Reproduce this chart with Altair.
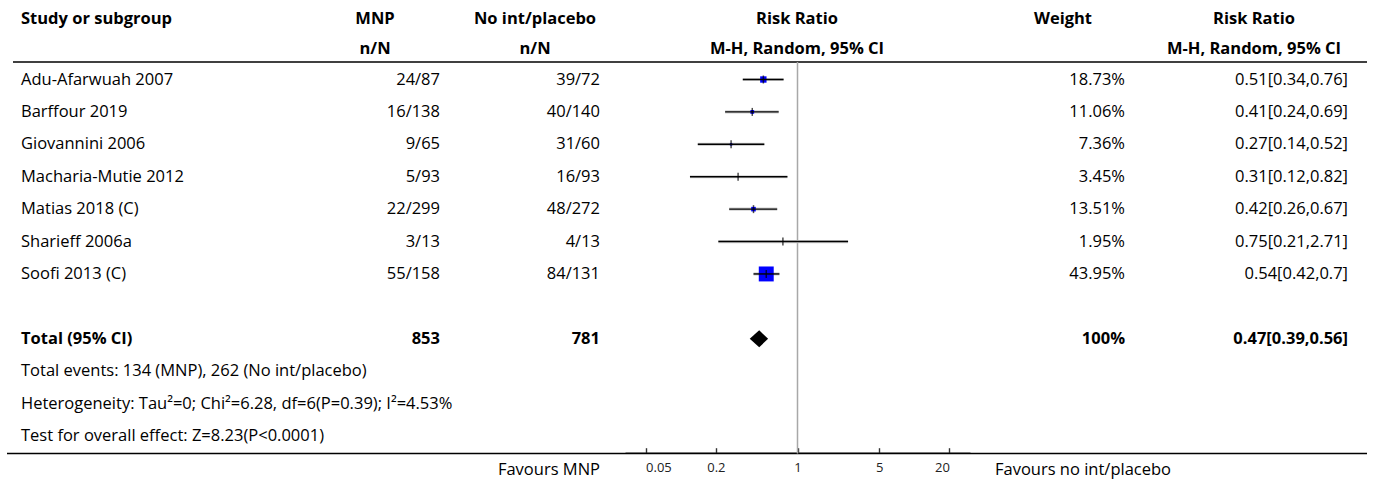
import altair as alt
import pandas as pd

# ---- study-level data -------------------------------------------------------
studies = ["Adu-Afarwuah 2007", "Barffour 2019", "Giovannini 2006",
           "Macharia-Mutie 2012", "Matias 2018 (C)", "Sharieff 2006a",
           "Soofi 2013 (C)"]
mnp_events = [24, 16, 9, 5, 22, 3, 55]
mnp_total = [87, 138, 65, 93, 299, 13, 158]
ctl_events = [39, 40, 31, 16, 48, 4, 84]
ctl_total = [72, 140, 60, 93, 272, 13, 131]
weights = [18.73, 11.06, 7.36, 3.45, 13.51, 1.95, 43.95]
rr = [0.51, 0.41, 0.27, 0.31, 0.42, 0.75, 0.54]
rr_lo = [0.34, 0.24, 0.14, 0.12, 0.26, 0.21, 0.42]
rr_hi = [0.76, 0.69, 0.52, 0.82, 0.67, 2.71, 0.7]

# ---- pooled result ----------------------------------------------------------
total_label = "Total (95% CI)"
total_mnp = 853
total_ctl = 781
total_weight = 100
total_rr = 0.47
total_lo = 0.39
total_hi = 0.56

footer_lines = [
    "Total events: 134 (MNP), 262 (No int/placebo)",
    "Heterogeneity: Tau\u00b2=0; Chi\u00b2=6.28, df=6(P=0.39); I\u00b2=4.53%",
    "Test for overall effect: Z=8.23(P<0.0001)",
]
axis_ticks = [0.05, 0.2, 1, 5, 20]
favours_left = "Favours MNP"
favours_right = "Favours no int/placebo"

# ---- layout -----------------------------------------------------------------
W, H = 1375, 484
FONT = "Open Sans"
FS = 16.5
X_NAME = 21
X_MNP, X_CTL, X_WT, X_RR = 440, 600, 1125, 1348
HDR_Y1, HDR_Y2 = 19, 49
TOP_RULE_Y, BOTTOM_RULE_Y = 62, 453.5
TOTAL_ROW = 8
FOOTER_ROWS = [9, 10, 11]
DIAMOND_HALF = 0.26
BLUE = "#0000ff"

n = len(studies)
rows = list(range(n))

studies_df = pd.DataFrame({
    "row": rows,
    "study": studies,
    "mnp": [f"{e}/{t}" for e, t in zip(mnp_events, mnp_total)],
    "ctl": [f"{e}/{t}" for e, t in zip(ctl_events, ctl_total)],
    "weight": weights,
    "weight_lbl": [f"{w}%" for w in weights],
    "rr": rr,
    "lo": rr_lo,
    "hi": rr_hi,
    "rr_lbl": [f"{r}[{l},{h}]" for r, l, h in zip(rr, rr_lo, rr_hi)],
})

total_df = pd.DataFrame({
    "row": [TOTAL_ROW],
    "study": [total_label],
    "mnp": [str(total_mnp)],
    "ctl": [str(total_ctl)],
    "weight_lbl": [f"{total_weight}%"],
    "rr_lbl": [f"{total_rr}[{total_lo},{total_hi}]"],
})

# diamond outline: left tip, centre, right tip
diamond_df = pd.DataFrame({
    "x": [total_lo, total_rr, total_hi],
    "top": [TOTAL_ROW, TOTAL_ROW - DIAMOND_HALF, TOTAL_ROW],
    "bottom": [TOTAL_ROW, TOTAL_ROW + DIAMOND_HALF, TOTAL_ROW],
})

footer_df = pd.DataFrame({"row": FOOTER_ROWS, "text": footer_lines})

one = pd.DataFrame({"k": [0]})

y_scale = alt.Scale(domain=[0, 11], range=[79.5, 436])
x_scale = alt.Scale(type="log", domain=[1 / 30, 30], range=[625, 970])
Y = alt.Y("row:Q", scale=y_scale, axis=None)


def txt(df, field, x, align, bold=False):
    return alt.Chart(df).mark_text(
        align=align, baseline="middle", font=FONT, fontSize=FS,
        fontWeight="bold" if bold else "normal", color="#000"
    ).encode(x=alt.value(x), y=Y, text=f"{field}:N")


def header(text, x, y, align="center"):
    return alt.Chart(one).mark_text(
        text=text, align=align, baseline="middle", font=FONT, fontSize=FS,
        fontWeight="bold", color="#000"
    ).encode(x=alt.value(x), y=alt.value(y))


headers = [
    header("Study or subgroup", X_NAME, HDR_Y1, "left"),
    header("MNP", 375, HDR_Y1), header("n/N", 375, HDR_Y2),
    header("No int/placebo", 535, HDR_Y1), header("n/N", 535, HDR_Y2),
    header("Risk Ratio", 797, HDR_Y1), header("M-H, Random, 95% CI", 797, HDR_Y2),
    header("Weight", 1063, HDR_Y1),
    header("Risk Ratio", 1254, HDR_Y1), header("M-H, Random, 95% CI", 1254, HDR_Y2),
]

rules = [
    alt.Chart(one).mark_rule(color="#000", strokeWidth=1.6).encode(
        x=alt.value(13), x2=alt.value(1367), y=alt.value(TOP_RULE_Y)),
    alt.Chart(one).mark_rule(color="#000", strokeWidth=1.6).encode(
        x=alt.value(7), x2=alt.value(1367), y=alt.value(BOTTOM_RULE_Y)),
]

# line of no effect at RR = 1
ref_line = alt.Chart(one).mark_rule(color="#a8a8a8", strokeWidth=1.5).encode(
    x=alt.X(datum=1, type="quantitative", scale=x_scale, axis=None),
    y=alt.value(TOP_RULE_Y), y2=alt.value(BOTTOM_RULE_Y),
)

ci_halo = alt.Chart(studies_df).mark_rule(color="#d0d0d0", strokeWidth=3.2).encode(
    x=alt.X("lo:Q", scale=x_scale, axis=None), x2="hi:Q", y=Y)

squares = alt.Chart(studies_df).mark_square(color=BLUE, opacity=1).encode(
    x=alt.X("rr:Q", scale=x_scale, axis=None), y=Y,
    size=alt.Size("weight:Q", scale=alt.Scale(type="pow", exponent=2,
                                              domain=[0, 50], range=[0, 289]),
                  legend=None),
)

# first and last tick labels sit flush against their ticks
edge_align = {"expr": "datum.value <= 0.05 ? 'left' : "
                      "(datum.value >= 20 ? 'right' : 'center')"}

ci_lines = alt.Chart(studies_df).mark_rule(color="#000", strokeWidth=1.4).encode(
    x=alt.X("lo:Q", scale=x_scale,
            axis=alt.Axis(orient="bottom", values=axis_ticks, format="~g",
                          ticks=False, domain=True, domainColor="#444",
                          domainWidth=1.4, grid=False, title=None,
                          labelFont=FONT, labelFontSize=13, labelColor="#222",
                          labelPadding=9, labelFlush=False,
                          labelAlign=edge_align,
                          offset=-(H - BOTTOM_RULE_Y) - 0.8)),
    x2="hi:Q", y=Y)

est_ticks = alt.Chart(studies_df).mark_tick(
    color="#000", orient="vertical", size=8, thickness=1.5).encode(
    x=alt.X("rr:Q", scale=x_scale,
            axis=alt.Axis(orient="top", values=axis_ticks, labels=False,
                          domain=False, ticks=True, tickSize=5,
                          tickColor="#333", tickWidth=1.4, grid=False,
                          title=None, offset=-BOTTOM_RULE_Y + 0.8)),
    y=Y)

diamond = alt.Chart(diamond_df).mark_area(color="#000", opacity=1).encode(
    x=alt.X("x:Q", scale=x_scale, axis=None),
    y=alt.Y("top:Q", scale=y_scale, axis=None), y2="bottom:Q")

text_layers = [
    txt(studies_df, "study", X_NAME, "left"),
    txt(studies_df, "mnp", X_MNP, "right"),
    txt(studies_df, "ctl", X_CTL, "right"),
    txt(studies_df, "weight_lbl", X_WT, "right"),
    txt(studies_df, "rr_lbl", X_RR, "right"),
    txt(total_df, "study", X_NAME, "left", True),
    txt(total_df, "mnp", X_MNP, "right", True),
    txt(total_df, "ctl", X_CTL, "right", True),
    txt(total_df, "weight_lbl", X_WT, "right", True),
    txt(total_df, "rr_lbl", X_RR, "right", True),
    txt(footer_df, "text", X_NAME, "left"),
]

favours = [
    alt.Chart(one).mark_text(text=favours_left, align="right", baseline="middle",
                             font=FONT, fontSize=FS, color="#000").encode(
        x=alt.value(600), y=alt.value(470)),
    alt.Chart(one).mark_text(text=favours_right, align="left", baseline="middle",
                             font=FONT, fontSize=FS, color="#000").encode(
        x=alt.value(995), y=alt.value(470)),
]

chart = alt.layer(
    *rules, ref_line, ci_halo, squares, ci_lines, est_ticks, diamond,
    *headers, *text_layers, *favours,
).resolve_axis(x="independent").properties(
    width=W, height=H, padding=0,
    autosize=alt.AutoSizeParams(type="none"),
    background="white",
).configure_view(stroke=None)

chart.save("out.html", embed_options={"renderer": "svg", "actions": False})
